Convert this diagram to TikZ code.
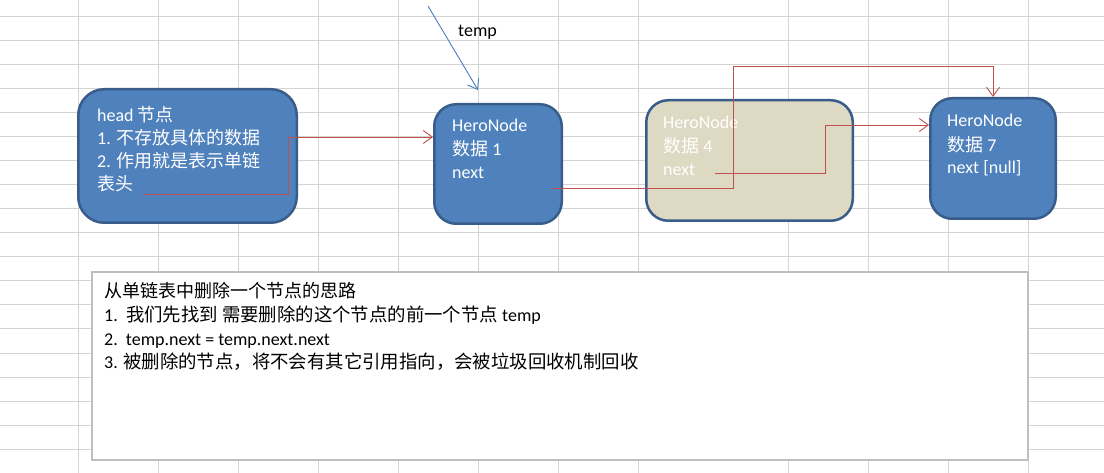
\documentclass[tikz,border=0pt]{standalone}
\usepackage{fontspec}
\setmainfont{Carlito}
\newfontfamily\cjk{Noto Sans CJK SC}
\newcommand\zh[1]{{\cjk #1}}
\usetikzlibrary{arrows.meta}
\definecolor{boxblue}{HTML}{4F81BD}
\definecolor{boxedge}{HTML}{385D8A}
\definecolor{beige}{HTML}{DDD9C3}
\definecolor{linkred}{HTML}{C0504D}
\definecolor{tempblue}{HTML}{4A7EBB}
\definecolor{gridgray}{HTML}{D4D4D4}
\definecolor{noteedge}{HTML}{BFBFBF}
\tikzset{
  gridline/.style={draw=gridgray, line width=1pt},
  listbox/.style={draw=boxedge, line width=2.5pt, rounded corners=22pt, inner sep=0pt},
  bluebox/.style={listbox, fill=boxblue},
  beigebox/.style={listbox, fill=beige},
  boxtext/.style={anchor=base west, inner sep=0pt, text=white, font=\fontsize{18}{22}\selectfont},
  notetext/.style={anchor=base west, inner sep=0pt, text=black, font=\fontsize{18}{22}\selectfont},
  notebox/.style={draw=noteedge, line width=1.2pt, fill=white, inner sep=0pt},
  link/.style={draw=linkred, line width=0.9pt, -{Straight Barb[length=9pt,width=13pt]}},
  tempptr/.style={draw=tempblue, line width=0.9pt, -{Straight Barb[length=9pt,width=13pt]}}
}
\begin{document}
\begin{tikzpicture}[x=1pt,y=-1pt]
\useasboundingbox (0,0) rectangle (1104,473);
\fill[white] (0,0) rectangle (1104,473);
% spreadsheet grid
\foreach \x in {78,158,238,318,398,478,558,638,788,868,948,1028}
  \draw[gridline] (\x,0) -- (\x,473);
\foreach \y in {17,41,...,449}
  \draw[gridline] (0,\y) -- (1104,\y);
% list boxes
\node[bluebox, rounded corners=26pt, minimum width=218.5pt, minimum height=133.5pt] (head) at (187.5,156) {};
\node[bluebox, minimum width=127.5pt, minimum height=119.5pt] (n1) at (498,164) {};
\node[beigebox, minimum width=206.5pt, minimum height=120.5pt] (n4) at (749.5,160.5) {};
\node[bluebox, minimum width=125.5pt, minimum height=120.5pt] (n7) at (993,158.5) {};
% head text
\node[boxtext] (h1) at (97,122) {head \zh{节点}};
\node[boxtext] (h2) at (97,145) {1. \zh{不存放具体的数据}};
\node[boxtext] (h3) at (97,168) {2. \zh{作用就是表示单链}};
\node[boxtext] (h4) at (97,191) {\zh{表头}};
% node 1 text
\node[boxtext] (a1) at (452,132) {HeroNode};
\node[boxtext] (a2) at (452,156) {\zh{数据} 1};
\node[boxtext] (a3) at (452,179) {next};
% node 4 text
\node[boxtext] (b1) at (663,129) {HeroNode};
\node[boxtext] (b2) at (663,153) {\zh{数据} 4};
\node[boxtext] (b3) at (663,176) {next};
% node 7 text
\node[boxtext] (c1) at (947,127) {HeroNode};
\node[boxtext] (c2) at (947,152) {\zh{数据} 7};
\node[boxtext] (c3) at (947,174) {next [null]};
% note box
\node[notebox, minimum width=936pt, minimum height=188pt] (note) at (560,366) {};
\node[notetext] (t1) at (104,298) {\zh{从单链表中删除一个节点的思路}};
\node[notetext] (t2) at (104,322) {1.\ \ {\fontsize{18.4}{22}\selectfont\cjk 我们先找到 需要删除的这个节点的前一个节点} temp};
\node[notetext] (t3) at (104,345) {2.\ \ temp.next = temp.next.next};
\node[notetext] (t4) at (104,368) {3. {\fontsize{18.4}{22}\selectfont\cjk 被删除的节点，将不会有其它引用指向，会被垃圾回收机制回收}};
% temp pointer
\node[notetext] (templabel) at (458,37) {temp};
\coordinate (ts) at (428,6);
\coordinate (tt) at (478,90);
\draw[tempptr] (ts) -- (tt);
% links
\coordinate (hs) at (143,194);
\coordinate (hk) at (288,137);
\draw[link] (hs) -| (hk) -- (hk -| n1.west);
\coordinate (ns) at (552,188);
\coordinate (nk) at (733,66);
\draw[link] (ns) -| (nk) -| (n7.north);
\coordinate (fs) at (715,173);
\coordinate (fk) at (825,125);
\draw[link] (fs) -| (fk) -- (fk -| n7.west);
\end{tikzpicture}
\end{document}
